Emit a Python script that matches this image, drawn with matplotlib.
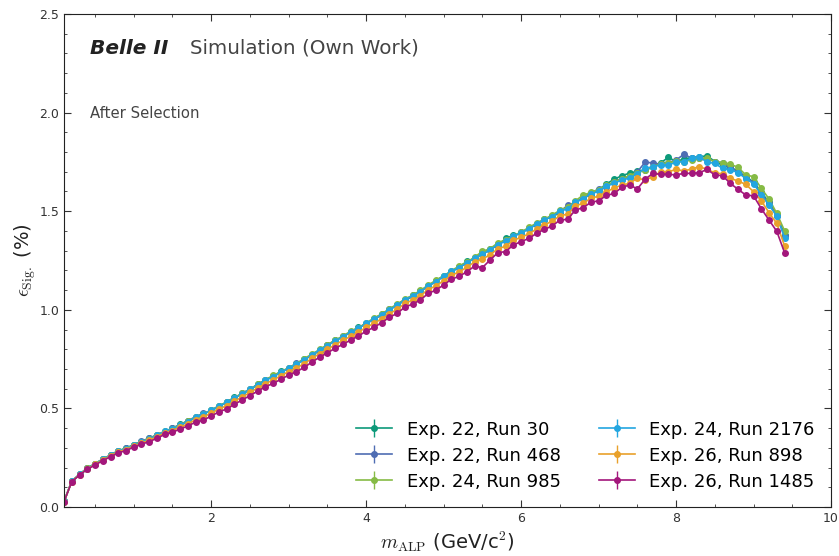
import numpy as np
import matplotlib
matplotlib.use("Agg")
import matplotlib.pyplot as plt
from matplotlib.ticker import MultipleLocator

plt.rcParams["mathtext.fontset"] = "cm"

# ALP mass points (GeV/c^2), 0.1 steps
m_alp = np.round(np.arange(0.1, 9.45, 0.1), 1)

eff_e22_r30 = [
    0.028, 0.131, 0.166, 0.197, 0.220, 0.243, 0.263, 0.285, 0.298, 0.316,
    0.332, 0.348, 0.366, 0.382, 0.399, 0.419, 0.436, 0.452, 0.470, 0.492,
    0.510, 0.533, 0.556, 0.572, 0.595, 0.624, 0.641, 0.664, 0.688, 0.701,
    0.726, 0.750, 0.770, 0.793, 0.821, 0.846, 0.861, 0.889, 0.911, 0.928,
    0.955, 0.979, 0.998, 1.026, 1.049, 1.075, 1.096, 1.118, 1.146, 1.174,
    1.192, 1.218, 1.245, 1.258, 1.286, 1.309, 1.325, 1.362, 1.378, 1.388,
    1.415, 1.431, 1.462, 1.469, 1.495, 1.523, 1.545, 1.570, 1.582, 1.609,
    1.638, 1.662, 1.680, 1.693, 1.702, 1.711, 1.722, 1.745, 1.773, 1.752,
    1.765, 1.772, 1.776, 1.781, 1.752, 1.733, 1.725, 1.702, 1.676, 1.648,
    1.596, 1.545, 1.480, 1.380,
]
eff_e22_r468 = [
    0.028, 0.130, 0.166, 0.196, 0.219, 0.242, 0.264, 0.284, 0.297, 0.315,
    0.333, 0.350, 0.364, 0.381, 0.401, 0.417, 0.438, 0.458, 0.475, 0.488,
    0.509, 0.531, 0.553, 0.576, 0.598, 0.619, 0.645, 0.663, 0.681, 0.705,
    0.728, 0.748, 0.769, 0.795, 0.820, 0.843, 0.866, 0.885, 0.908, 0.930,
    0.953, 0.972, 1.004, 1.025, 1.047, 1.068, 1.094, 1.120, 1.145, 1.168,
    1.193, 1.216, 1.236, 1.265, 1.284, 1.302, 1.333, 1.352, 1.369, 1.395,
    1.408, 1.437, 1.453, 1.478, 1.497, 1.530, 1.541, 1.568, 1.593, 1.612,
    1.622, 1.650, 1.665, 1.675, 1.700, 1.748, 1.745, 1.738, 1.746, 1.760,
    1.788, 1.770, 1.772, 1.766, 1.752, 1.745, 1.722, 1.700, 1.672, 1.645,
    1.590, 1.540, 1.478, 1.375,
]
eff_e24_r985 = [
    0.028, 0.131, 0.165, 0.196, 0.219, 0.242, 0.263, 0.286, 0.296, 0.316,
    0.331, 0.347, 0.365, 0.385, 0.398, 0.418, 0.437, 0.455, 0.473, 0.491,
    0.514, 0.532, 0.555, 0.577, 0.596, 0.622, 0.646, 0.667, 0.686, 0.707,
    0.727, 0.753, 0.775, 0.799, 0.824, 0.845, 0.868, 0.891, 0.909, 0.934,
    0.957, 0.978, 1.006, 1.028, 1.055, 1.073, 1.098, 1.125, 1.150, 1.172,
    1.198, 1.222, 1.241, 1.268, 1.296, 1.310, 1.340, 1.355, 1.375, 1.394,
    1.418, 1.440, 1.460, 1.480, 1.505, 1.520, 1.552, 1.582, 1.595, 1.610,
    1.632, 1.648, 1.665, 1.680, 1.695, 1.708, 1.725, 1.740, 1.742, 1.756,
    1.748, 1.762, 1.770, 1.768, 1.751, 1.747, 1.739, 1.722, 1.684, 1.675,
    1.616, 1.562, 1.489, 1.401,
]
eff_e24_r2176 = [
    0.028, 0.130, 0.165, 0.195, 0.218, 0.241, 0.262, 0.283, 0.295, 0.314,
    0.330, 0.345, 0.363, 0.384, 0.396, 0.416, 0.433, 0.456, 0.472, 0.490,
    0.512, 0.530, 0.552, 0.574, 0.597, 0.620, 0.643, 0.661, 0.683, 0.704,
    0.724, 0.745, 0.772, 0.797, 0.818, 0.842, 0.864, 0.886, 0.906, 0.931,
    0.952, 0.975, 1.001, 1.022, 1.052, 1.070, 1.092, 1.123, 1.142, 1.170,
    1.195, 1.214, 1.238, 1.262, 1.281, 1.305, 1.331, 1.348, 1.372, 1.392,
    1.410, 1.435, 1.456, 1.473, 1.500, 1.512, 1.548, 1.562, 1.588, 1.601,
    1.628, 1.641, 1.659, 1.667, 1.690, 1.717, 1.726, 1.734, 1.735, 1.748,
    1.752, 1.768, 1.776, 1.748, 1.743, 1.717, 1.710, 1.696, 1.665, 1.640,
    1.582, 1.531, 1.474, 1.366,
]
eff_e26_r898 = [
    0.027, 0.129, 0.164, 0.193, 0.216, 0.238, 0.259, 0.279, 0.291, 0.309,
    0.324, 0.339, 0.356, 0.376, 0.388, 0.406, 0.422, 0.443, 0.457, 0.476,
    0.497, 0.514, 0.537, 0.558, 0.581, 0.604, 0.626, 0.644, 0.666, 0.687,
    0.705, 0.727, 0.754, 0.778, 0.800, 0.823, 0.845, 0.866, 0.887, 0.911,
    0.931, 0.955, 0.981, 1.002, 1.033, 1.049, 1.071, 1.103, 1.121, 1.148,
    1.175, 1.192, 1.216, 1.243, 1.258, 1.279, 1.310, 1.322, 1.352, 1.368,
    1.385, 1.410, 1.431, 1.449, 1.477, 1.485, 1.527, 1.540, 1.566, 1.576,
    1.599, 1.617, 1.633, 1.641, 1.668, 1.658, 1.675, 1.700, 1.700, 1.712,
    1.704, 1.714, 1.726, 1.712, 1.695, 1.689, 1.667, 1.653, 1.636, 1.599,
    1.553, 1.492, 1.438, 1.324,
]
eff_e26_r1485 = [
    0.027, 0.128, 0.162, 0.191, 0.213, 0.235, 0.255, 0.275, 0.286, 0.304,
    0.318, 0.332, 0.348, 0.369, 0.379, 0.396, 0.411, 0.431, 0.441, 0.461,
    0.483, 0.497, 0.521, 0.543, 0.565, 0.588, 0.610, 0.627, 0.648, 0.669,
    0.686, 0.708, 0.735, 0.760, 0.782, 0.805, 0.825, 0.847, 0.867, 0.892,
    0.911, 0.935, 0.962, 0.982, 1.014, 1.029, 1.050, 1.083, 1.100, 1.126,
    1.155, 1.170, 1.193, 1.222, 1.214, 1.253, 1.290, 1.295, 1.329, 1.346,
    1.362, 1.388, 1.408, 1.425, 1.455, 1.459, 1.506, 1.518, 1.545, 1.553,
    1.580, 1.590, 1.621, 1.633, 1.613, 1.662, 1.692, 1.687, 1.687, 1.684,
    1.692, 1.692, 1.695, 1.712, 1.684, 1.680, 1.641, 1.611, 1.582, 1.578,
    1.513, 1.455, 1.398, 1.290,
]

labels = ["Exp. 22, Run 30", "Exp. 22, Run 468", "Exp. 24, Run 985",
          "Exp. 24, Run 2176", "Exp. 26, Run 898", "Exp. 26, Run 1485"]
series = [eff_e22_r30, eff_e22_r468, eff_e24_r985,
          eff_e24_r2176, eff_e26_r898, eff_e26_r1485]
# small statistical uncertainty per run (%)
errs = [0.004, 0.004, 0.004, 0.004, 0.004, 0.004]
colors = ["#0d9a7a", "#4f6db3", "#86bb45", "#23a6e0", "#e9a12b", "#a3177c"]

fig = plt.figure(figsize=(8.39, 5.56), dpi=100)
ax = fig.add_axes([0.0763, 0.0881, 0.9142, 0.8867])

for y, e, lab, c in zip(series, errs, labels, colors):
    ax.errorbar(m_alp, y, yerr=e, color=c, marker="o", markersize=4,
                linewidth=1.2, elinewidth=1.0, label=lab)

ax.set_xlim(0.1, 10)
ax.set_ylim(0, 2.5)
ax.xaxis.set_major_locator(MultipleLocator(2))
ax.xaxis.set_minor_locator(MultipleLocator(0.5))
ax.yaxis.set_major_locator(MultipleLocator(0.5))
ax.yaxis.set_minor_locator(MultipleLocator(0.1))
ax.tick_params(which="both", direction="in", top=True, right=True,
               colors="#333333", labelsize=9)
ax.tick_params(which="major", length=5)
ax.tick_params(which="minor", length=2.5)
for s in ax.spines.values():
    s.set_color("#222222")

ax.set_xlabel(r"$m_{\rm ALP}$ (GeV/c$^2$)", fontsize=14, color="#222222",
              labelpad=3)
ax.set_ylabel(r"$\epsilon_{\rm Sig.}$ (%)", fontsize=14, color="#222222",
              labelpad=1)

ax.text(0.034, 0.931, "Belle II", transform=ax.transAxes, fontsize=14.5,
        fontweight="bold", fontstyle="italic", color="#222222", va="center")
ax.text(0.164, 0.931, "Simulation (Own Work)", transform=ax.transAxes,
        fontsize=14.3, color="#444444", va="center")
ax.text(0.034, 0.798, "After Selection", transform=ax.transAxes,
        fontsize=10.7, color="#444444", va="center")

ax.legend(loc="lower right", ncol=2, frameon=False, fontsize=13,
          handlelength=2.0, columnspacing=2.1, labelspacing=0.45,
          borderaxespad=0.5)

fig.savefig("out.png", dpi=100)
